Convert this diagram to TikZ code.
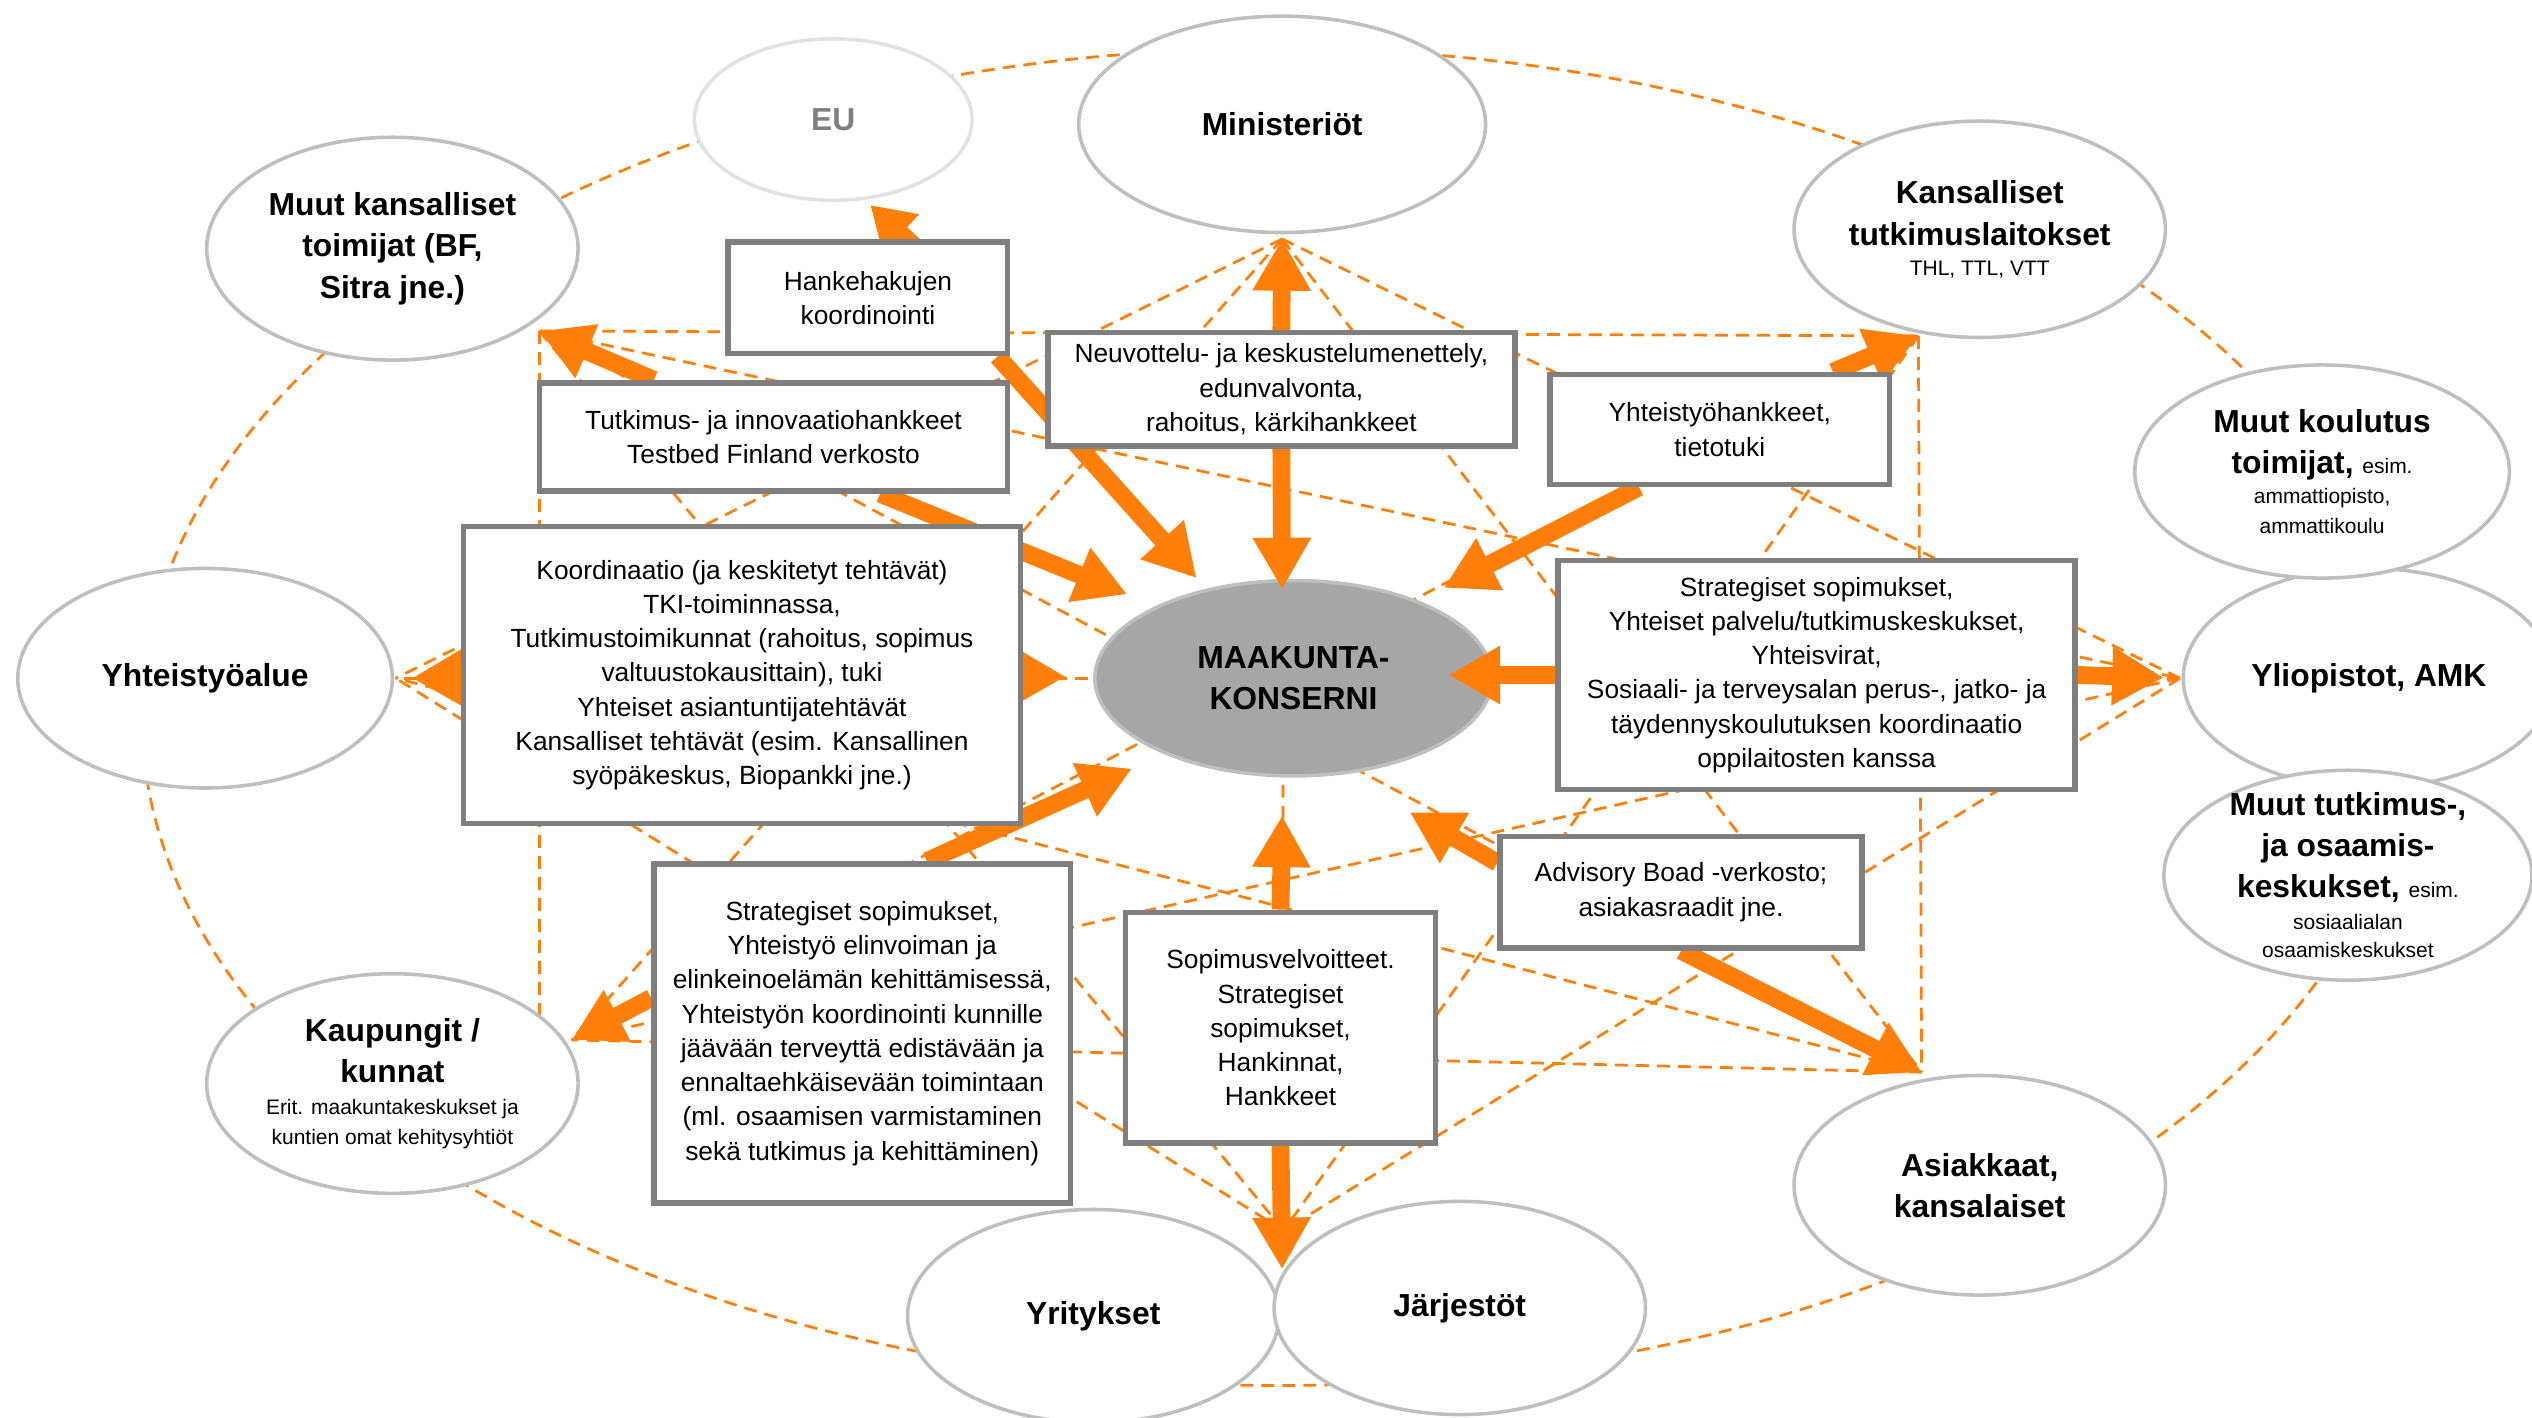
\documentclass[tikz,border=0pt]{standalone}
\usepackage{fontspec}
\setmainfont{Liberation Sans}
\usetikzlibrary{arrows.meta,shapes.geometric,backgrounds}
\definecolor{orng}{RGB}{255,127,10}
\definecolor{ringgrey}{RGB}{191,191,191}
\definecolor{eugrey}{RGB}{226,226,226}
\definecolor{eutext}{RGB}{128,128,128}
\definecolor{boxgrey}{RGB}{127,127,127}
\definecolor{kgrey}{RGB}{166,166,166}
\newcommand\circtxt{\fontsize{19.7}{25.5}\selectfont\bfseries}
\newcommand\boxtxt{\fontsize{16.3}{21.2}\selectfont}
\newcommand\smalltxt{\fontsize{13}{19}\selectfont\mdseries}
\tikzset{
  circ/.style={ellipse,draw=ringgrey,line width=2.2pt,fill=white,inner sep=-15pt,
               align=center,font=\circtxt},
  box/.style={rectangle,draw=boxgrey,line width=3.5pt,fill=white,inner sep=0pt,
              align=center,font=\boxtxt},
  net/.style={orng,line width=1.7pt,dash pattern=on 8pt off 5pt},
  bigarr/.style={orng,line width=11pt,-{Triangle[length=32pt,width=34pt]}}}

\begin{document}
\begin{tikzpicture}[x=1pt,y=-1pt]
  \useasboundingbox (0,0) rectangle (1568,878);
  \node[box,minimum width=173pt,minimum height=69pt] (hank) at (537.5,184.5){Hankehakujen\\koordinointi};
  \node[box,minimum width=290pt,minimum height=67pt] (tut) at (479,270.5){Tutkimus- ja innovaatiohankkeet\\Testbed Finland verkosto};
  \node[box,minimum width=345pt,minimum height=184pt] (koord) at (459.5,418){Koordinaatio (ja keskitetyt tehtävät)\\TKI-toiminnassa,\\Tutkimustoimikunnat (rahoitus, sopimus\\valtuustokausittain), tuki\\Yhteiset asiantuntijatehtävät\\Kansalliset tehtävät (esim. Kansallinen\\syöpäkeskus, Biopankki jne.)};
  \node[box,minimum width=289pt,minimum height=70pt] (neuv) at (793.5,241){Neuvottelu- ja keskustelumenettely,\\edunvalvonta,\\rahoitus, kärkihankkeet};
  \node[box,minimum width=210pt,minimum height=68pt] (yht) at (1065,266){Yhteistyöhankkeet,\\tietotuki};
  \node[box,minimum width=320pt,minimum height=142pt] (sright) at (1125,418){Strategiset sopimukset,\\Yhteiset palvelu/tutkimuskeskukset,\\Yhteisvirat,\\Sosiaali- ja terveysalan perus-, jatko- ja\\täydennyskoulutuksen koordinaatio\\oppilaitosten kanssa};
  \node[box,minimum width=258pt,minimum height=210pt] (sleft) at (534,640){Strategiset sopimukset,\\Yhteistyö elinvoiman ja\\elinkeinoelämän kehittämisessä,\\Yhteistyön koordinointi kunnille\\jäävään terveyttä edistävään ja\\ennaltaehkäisevään toimintaan\\(ml. osaamisen varmistaminen\\sekä tutkimus ja kehittäminen)};
  \node[box,minimum width=192pt,minimum height=143pt] (sopv) at (793,636.5){Sopimusvelvoitteet.\\Strategiset\\sopimukset,\\Hankinnat,\\Hankkeet};
  \node[box,minimum width=224pt,minimum height=69pt] (advb) at (1041,552.5){Advisory Boad -verkosto;\\asiakasraadit jne.};

  \begin{pgfonlayer}{background}
  \coordinate (T) at (794,148); \coordinate (TR) at (1188,208);
  \coordinate (R) at (1350,420); \coordinate (BR) at (1190,664);
  \coordinate (B) at (795,762); \coordinate (BL) at (354,644);
  \coordinate (L) at (245,420); \coordinate (TL) at (334,205);
  \draw[net] (790,444) ellipse [x radius=702pt,y radius=414pt];
  \foreach \a/\b in {T/L,T/BL,T/R,T/BR,T/B,TL/TR,TL/BR,TL/B,TL/R,TR/BR,TR/BL,TR/B,
                     R/L,R/BL,R/B,BR/BL,BR/L,B/L}
    \draw[net] (\a)--(\b);
  \draw[net] (TL)--(TL |- BL);

  \node[circ,draw=eugrey,text=eutext,minimum width=172pt,minimum height=100pt] (eu) at (516,74){EU};
  \node[circ,minimum width=252pt,minimum height=134pt] (min) at (794,77){Ministeriöt};
  \node[circ,minimum width=230pt,minimum height=138pt] (mkans) at (243,154){Muut kansalliset\\toimijat (BF,\\Sitra jne.)};
  \node[circ,minimum width=230pt,minimum height=134pt] (kans) at (1226,142){Kansalliset\\tutkimuslaitokset\\[-7pt]{\smalltxt THL, TTL, VTT}};
  \node[circ,minimum width=232pt,minimum height=136pt] (yal) at (127,420){Yhteistyöalue};
  \node[circ,minimum width=230pt,minimum height=136pt] (yli) at (1467,420){Yliopistot, AMK};
  \node[circ,minimum width=232pt,minimum height=132pt] (mkoul) at (1438,292){Muut koulutus\\toimijat, {\smalltxt esim.}\\[-7pt]{\smalltxt ammattiopisto,}\\[-7pt]{\smalltxt ammattikoulu}};
  \node[circ,minimum width=228pt,minimum height=130pt] (mtutk) at (1454,542){Muut tutkimus-,\\ja osaamis-\\keskukset, {\smalltxt esim.}\\[-6pt]{\smalltxt sosiaalialan}\\[-8pt]{\smalltxt osaamiskeskukset}};
  \node[circ,minimum width=230pt,minimum height=136pt] (kaup) at (243,671){Kaupungit /\\kunnat\\[-6pt]{\smalltxt Erit. maakuntakeskukset ja}\\[-7pt]{\smalltxt kuntien omat kehitysyhtiöt}};
  \node[circ,minimum width=230pt,minimum height=132pt] (yrit) at (677,815){Yritykset};
  \node[circ,minimum width=230pt,minimum height=132pt] (jarj) at (904,810){Järjestöt};
  \node[circ,minimum width=230pt,minimum height=136pt] (asiak) at (1226,734){Asiakkaat,\\kansalaiset};
  \node[circ,fill=kgrey,minimum width=246pt,minimum height=121pt] (maak) at (801,420){MAAKUNTA-\\KONSERNI};

  \coordinate (m1) at (741,358); \coordinate (m2) at (698,368); \coordinate (m3) at (794,365);
  \coordinate (m4) at (894,364); \coordinate (m5) at (897,418); \coordinate (m6) at (660,419);
  \coordinate (m7) at (701,476); \coordinate (m8) at (794,505); \coordinate (m9) at (873,503);
  \coordinate (e1) at (539,127); \coordinate (yj) at (794,786);
  \draw[bigarr] ([xshift=-8pt]hank.south east)--(m1);
  \draw[bigarr,-{Triangle[length=26pt,width=31pt]}] ([xshift=45pt,yshift=17pt]hank.center)--(e1);
  \draw[bigarr] ([xshift=-74pt]tut.north)--(TL);
  \draw[bigarr] ([xshift=66pt]tut.south)--(m2);
  \draw[bigarr] (neuv.north)--(T);
  \draw[bigarr] (neuv.south)--(m3);
  \draw[bigarr] ([xshift=-50pt]yht.south)--(m4);
  \draw[bigarr] ([xshift=70pt]yht.north)--(TR);
  \draw[bigarr] (sright.west)--(m5);
  \draw[bigarr,shorten >=10pt] (sright.east)--(R);
  \draw[bigarr] (koord)--(m6);
  \draw[bigarr,shorten >=10pt] (koord)--(L);
  \draw[bigarr] ([xshift=40pt]sleft.north)--(m7);
  \draw[bigarr] ([yshift=22pt]sleft.west)--(BL);
  \draw[bigarr] (sopv.north)--(m8);
  \draw[bigarr] (sopv.south)--(yj);
  \draw[bigarr] ([yshift=-18pt]advb.north west)--(m9);
  \draw[bigarr] (advb.south)--(BR);
  \end{pgfonlayer}
\end{tikzpicture}
\end{document}
